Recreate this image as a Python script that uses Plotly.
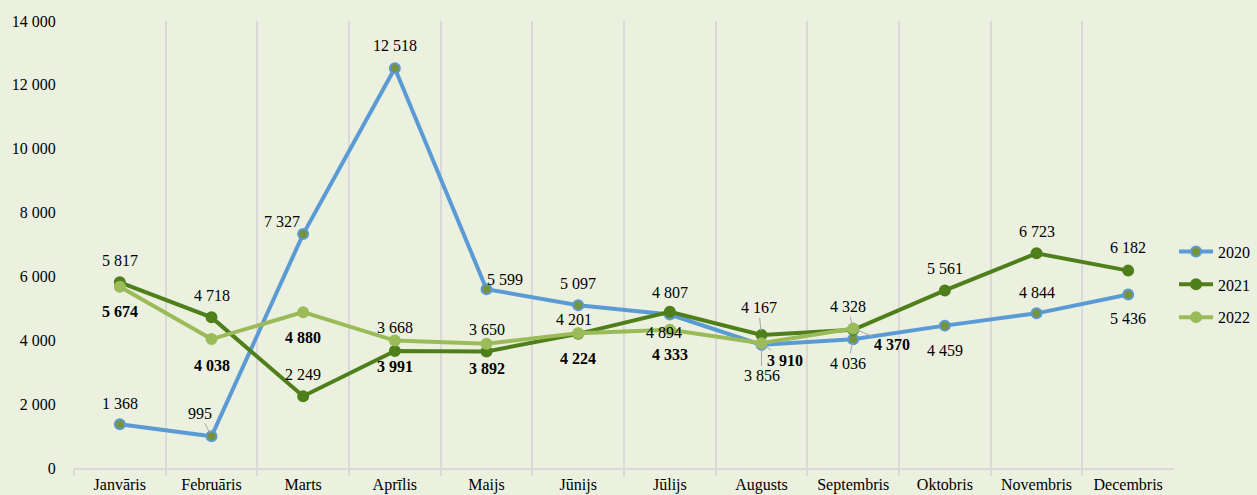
import plotly.graph_objects as go

months = ["Janvāris", "Februāris", "Marts", "Aprīlis", "Maijs", "Jūnijs",
          "Jūlijs", "Augusts", "Septembris", "Oktobris", "Novembris", "Decembris"]

y2020 = [1368, 995, 7327, 12518, 5599, 5097, 4807, 3856, 4036, 4459, 4844, 5436]
y2021 = [5817, 4718, 2249, 3668, 3650, 4201, 4894, 4167, 4328, 5561, 6723, 6182]
y2022 = [5674, 4038, 4880, 3991, 3892, 4224, 4333, 3910, 4370]

y_ticks = [0, 2000, 4000, 6000, 8000, 10000, 12000, 14000]

# label offsets in pixels (dx, dy), dy positive = down; lead = leader line
off2020 = [(0, -21, 0), (-12, -23, 1), (-21, -13, 0), (0, -23, 0), (18, -10, 0), (0, -22, 0),
           (0, -22, 0), (0, 31, 1), (-5, 24, 1), (0, 25, 0), (0, -21, 0), (0, 24, 0)]
off2021 = [(0, -22, 0), (0, -22, 0), (0, -22, 0), (0, -23, 0), (0, -22, 0), (-4, -14, 0),
           (-6, 21, 0), (-3, -27, 1), (-5, -23, 1), (0, -22, 0), (0, -22, 0), (0, -23, 0)]
off2022 = [(0, 25, 0), (0, 26, 0), (0, 25, 0), (0, 26, 0), (0, 25, 0), (0, 25, 0),
           (0, 25, 0), (23, 17, 1), (39, 16, 1)]

BLUE = "#5B9BD5"
DARK = "#4F7F1B"
LIGHT = "#9BBB59"
OLIVE = "#77933C"
BG = "#EBF1DE"
FONT = "Liberation Serif, Times New Roman, serif"
TXT = dict(family=FONT, size=16, color="black")


def fmt(v):
    return f"{v:,}".replace(",", " ")


fig = go.Figure()

series = [
    ("2020", y2020, BLUE, OLIVE, BLUE),
    ("2021", y2021, DARK, DARK, DARK),
    ("2022", y2022, LIGHT, LIGHT, LIGHT),
]
for name, ys, lc, mfill, mline in series:
    fig.add_trace(go.Scatter(
        x=months[:len(ys)], y=ys, name=name, mode="lines+markers",
        legendgroup=name,
        line=dict(color=lc, width=4),
        marker=dict(size=10, color=mfill, line=dict(color=mline, width=2)),
    ))

annotations = []
for ys, offs, bold in [(y2020, off2020, False), (y2021, off2021, False), (y2022, off2022, True)]:
    for m, v, (dx, dy, lead) in zip(months, ys, offs):
        txt = f"<b>{fmt(v)}</b>" if bold else fmt(v)
        if lead:
            annotations.append(dict(
                x=m, y=v, text=txt, showarrow=True, ax=dx, ay=dy,
                arrowhead=0, arrowwidth=1, arrowcolor="#A6A6A6", standoff=4,
                font=TXT,
            ))
        else:
            annotations.append(dict(
                x=m, y=v, text=txt, showarrow=False, xshift=dx, yshift=-dy,
                font=TXT,
            ))

fig.update_layout(
    width=1257, height=495,
    margin=dict(l=74, r=82, t=21, b=27),
    paper_bgcolor=BG, plot_bgcolor=BG,
    font=TXT,
    annotations=annotations,
    showlegend=True,
    legend=dict(xref="container", x=0.934, xanchor="left",
                yref="container", y=0.425, yanchor="middle",
                bgcolor="rgba(0,0,0,0)", font=TXT,
                traceorder="grouped", tracegroupgap=9, itemwidth=34),
    xaxis=dict(
        type="category", categoryorder="array", categoryarray=months,
        range=[-0.5, 11.5], tickson="boundaries", showgrid=True,
        gridcolor="#D9D9D9", gridwidth=2, showline=True, linecolor="#D9D9D9", linewidth=2,
        ticks="outside", ticklen=6, tickcolor="#D9D9D9", tickwidth=2,
        ticklabelstandoff=1, tickfont=TXT, automargin=False,
        zeroline=False,
    ),
    yaxis=dict(
        range=[0, 14000], tickvals=y_ticks, ticktext=[fmt(t) for t in y_ticks],
        showgrid=False, zeroline=False, showline=False, automargin=False,
        ticks="outside", ticklen=14, tickcolor="rgba(0,0,0,0)", tickfont=TXT,
    ),
)

fig.write_html("out.html", config={"displayModeBar": False},
               post_script="document.body.style.margin='0px';")
